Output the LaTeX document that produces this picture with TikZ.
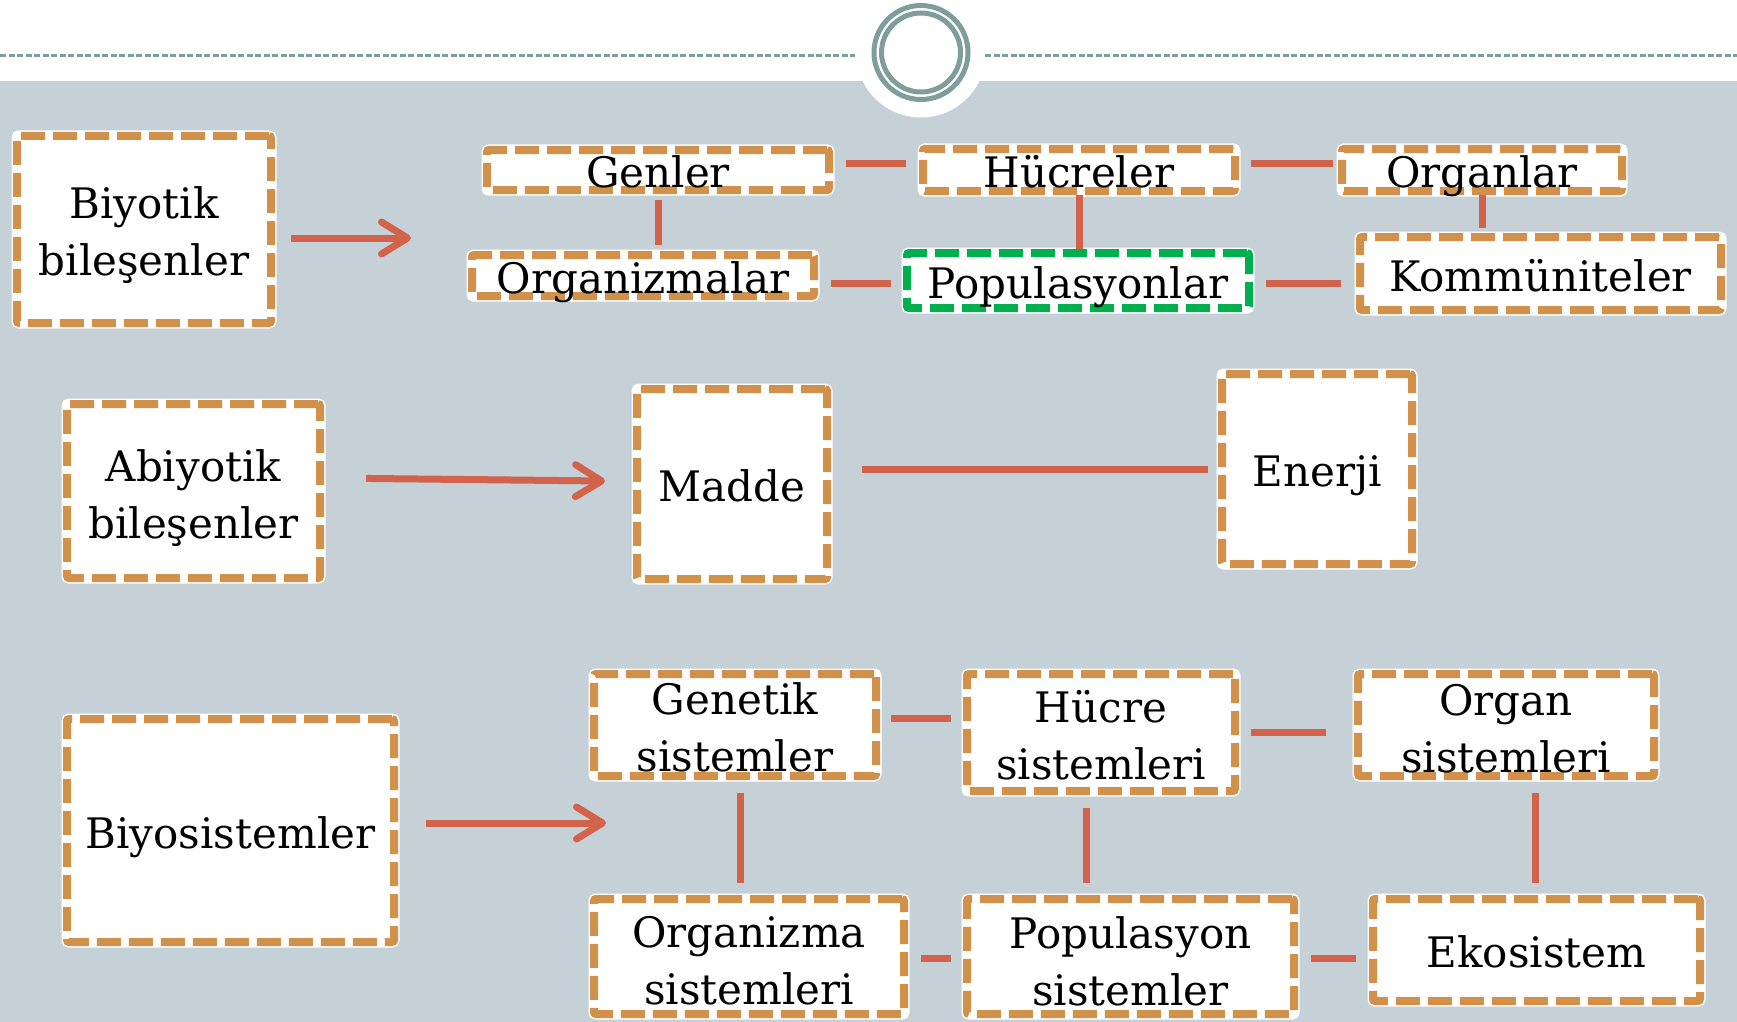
\documentclass[tikz,border=0pt]{standalone}
\usepackage{fontspec}
\setmainfont{DejaVu Serif}
\usepackage{tikz}
\usetikzlibrary{calc}
\usetikzlibrary{arrows.meta}
\usetikzlibrary{positioning}

\definecolor{slidegray}{HTML}{C5D0D7}
\definecolor{ringteal}{HTML}{7E9D9B}
\definecolor{boxorange}{HTML}{D1914B}
\definecolor{boxgreen}{HTML}{00B050}
\definecolor{linkred}{HTML}{D2634A}

\newcommand{\tworow}[3]{\raisebox{#1}[20pt][20pt]{\begin{tabular}[t]{@{}c@{}}#2\\#3\end{tabular}}}

\tikzset{
  levelbox/.style={draw=boxorange, fill=white, line width=8pt, dash pattern=on 24pt off 8pt,
    rounded corners=2pt, inner sep=0pt, align=center, font=\fontsize{42}{57}\selectfont,
    preaction={draw=white, solid, line width=11pt}},
  onerow/.style={text height=35pt, text depth=0pt},
  link/.style={draw=linkred, line width=7pt},
  bigarrow/.style={draw=linkred, line width=7pt, -{Straight Barb[length=26pt,width=32pt,round]}},
  headline/.style={draw=ringteal, line width=2.5pt, dash pattern=on 6pt off 2.5pt},
  ringline/.style={draw=ringteal, line width=5pt}
}

\begin{document}
\begin{tikzpicture}[x=1pt,y=-1pt]
            \useasboundingbox (0,0) rectangle (1737,1022);
            \fill[white] (0,0) rectangle (1737,1022);
            \fill[slidegray] (0,81) rectangle (1737,1022);
            \fill[white] (921,52.5) circle (65pt);
            \draw[headline] (0,55.7) -- (855,55.7);
            \draw[headline] (985,55.7) -- (1737,55.7);
            \draw[ringline] (921,52.5) circle (47pt);
            \draw[ringline] (921,52.5) circle (39.5pt);

            \node[levelbox, minimum width=254pt, minimum height=187pt] (biyotik) at (144,229.5) {\tworow{11.5pt}{Biyotik}{bileşenler}};
            \node[levelbox, onerow, minimum width=342pt, minimum height=40pt] (genler) at (658,170) {Genler};
            \node[levelbox, onerow, minimum width=312pt, minimum height=42pt] (hucreler) at (1079,170) {Hücreler};
            \node[levelbox, onerow, minimum width=280pt, minimum height=42pt] (organlar) at (1482,170) {Organlar};
            \node[levelbox, onerow, minimum width=342pt, minimum height=41pt] (organizmalar) at (643,275.5) {Organizmalar};
            \node[levelbox, onerow, draw=boxgreen, minimum width=342pt, minimum height=55pt] (populasyonlar) at (1078,280.5) {Populasyonlar};
            \node[levelbox, onerow, minimum width=361pt, minimum height=73pt] (kommuniteler) at (1540.5,273.5) {Kommüniteler};

            \node[levelbox, minimum width=253pt, minimum height=174pt] (abiyotik) at (193.5,491) {\tworow{9.3pt}{Abiyotik}{bileşenler}};
            \node[levelbox, onerow, minimum width=190pt, minimum height=190pt] (madde) at (732,484) {Madde};
            \node[levelbox, onerow, minimum width=190pt, minimum height=190pt] (enerji) at (1317,469) {Enerji};

            \node[levelbox, onerow, minimum width=327pt, minimum height=223pt] (biyosis) at (230.5,830.5) {Biyosistemler};
            \node[levelbox, minimum width=282pt, minimum height=102pt] (genetik) at (735,725) {\tworow{10.5pt}{Genetik}{sistemler}};
            \node[levelbox, minimum width=268pt, minimum height=117pt] (hucre) at (1101,732.5) {\tworow{10.5pt}{Hücre}{sistemleri}};
            \node[levelbox, minimum width=296pt, minimum height=102pt] (organ) at (1506,725) {\tworow{9.5pt}{Organ}{sistemleri}};
            \node[levelbox, minimum width=310pt, minimum height=115pt] (organizma) at (749,956.5) {\tworow{9.5pt}{Organizma}{sistemleri}};
            \node[levelbox, minimum width=327pt, minimum height=115pt] (populasyon) at (1130.5,956.5) {\tworow{8.5pt}{Populasyon}{sistemler}};
            \node[levelbox, onerow, minimum width=327pt, minimum height=102pt] (ekosistem) at (1536.5,950) {Ekosistem};

            \coordinate (biotipend) at (411,238);
            \coordinate (abiotipend) at (605,481);
            \coordinate (biosistipend) at (606,823);

            \draw[bigarrow, shorten <=16pt] (biyotik.east |- biotipend) -- (biotipend);
            \draw[bigarrow, shorten <=42pt] ($(abiyotik.east)+(0,-13)$) -- (abiotipend);
            \draw[bigarrow, shorten <=28pt] (biyosis.east |- biosistipend) -- (biosistipend);

            \draw[link, shorten <=13pt, shorten >=13pt] ($(genler.east)+(0,-7)$) -- ($(genler.east -| hucreler.west)+(0,-7)$);
            \draw[link, shorten <=12pt, shorten >=5pt] ($(hucreler.east)+(0,-7)$) -- ($(hucreler.east -| organlar.west)+(0,-7)$);
            \draw[link, shorten <=6pt, shorten >=6pt] (genler.south) -- (genler.south |- organizmalar.north);
            \draw[link] (hucreler.south) -- (hucreler.south |- populasyonlar.north);
            \draw[link, shorten >=5pt] (organlar.south) -- (organlar.south |- kommuniteler.north);
            \draw[link, shorten <=13pt, shorten >=12pt] ($(organizmalar.east)+(0,7.5)$) -- ($(organizmalar.east -| populasyonlar.west)+(0,7.5)$);
            \draw[link, shorten <=13pt, shorten >=15pt] ($(populasyonlar.east)+(0,2.5)$) -- ($(populasyonlar.east -| kommuniteler.west)+(0,2.5)$);

            \draw[link, shorten <=31pt, shorten >=10pt] ($(madde.east)+(0,-15)$) -- ($(madde.east -| enerji.west)+(0,-15)$);

            \draw[link, shorten <=11pt, shorten >=12pt] ($(genetik.east)+(0,-7)$) -- ($(genetik.east -| hucre.west)+(0,-7)$);
            \draw[link, shorten <=12pt, shorten >=28pt] (hucre.east) -- (hucre.east -| organ.west);
            \draw[link, shorten <=13pt, shorten >=12pt] ($(genetik.south)+(5.6,0)$) -- ($(genetik.south |- organizma.north)+(5.6,0)$);
            \draw[link, shorten <=13pt, shorten >=12pt] ($(hucre.south)+(-15,0)$) -- ($(hucre.south |- populasyon.north)+(-15,0)$);
            \draw[link, shorten <=13pt, shorten >=12pt] ($(organ.south)+(29,0)$) -- ($(organ.south |- ekosistem.north)+(29,0)$);
            \draw[link, shorten <=13pt, shorten >=12pt] ($(organizma.east)+(0,1.5)$) -- ($(organizma.east -| populasyon.west)+(0,1.5)$);
            \draw[link, shorten <=13pt, shorten >=13pt] ($(populasyon.east)+(0,1.5)$) -- ($(populasyon.east -| ekosistem.west)+(0,1.5)$);
        \end{tikzpicture}
\end{document}
